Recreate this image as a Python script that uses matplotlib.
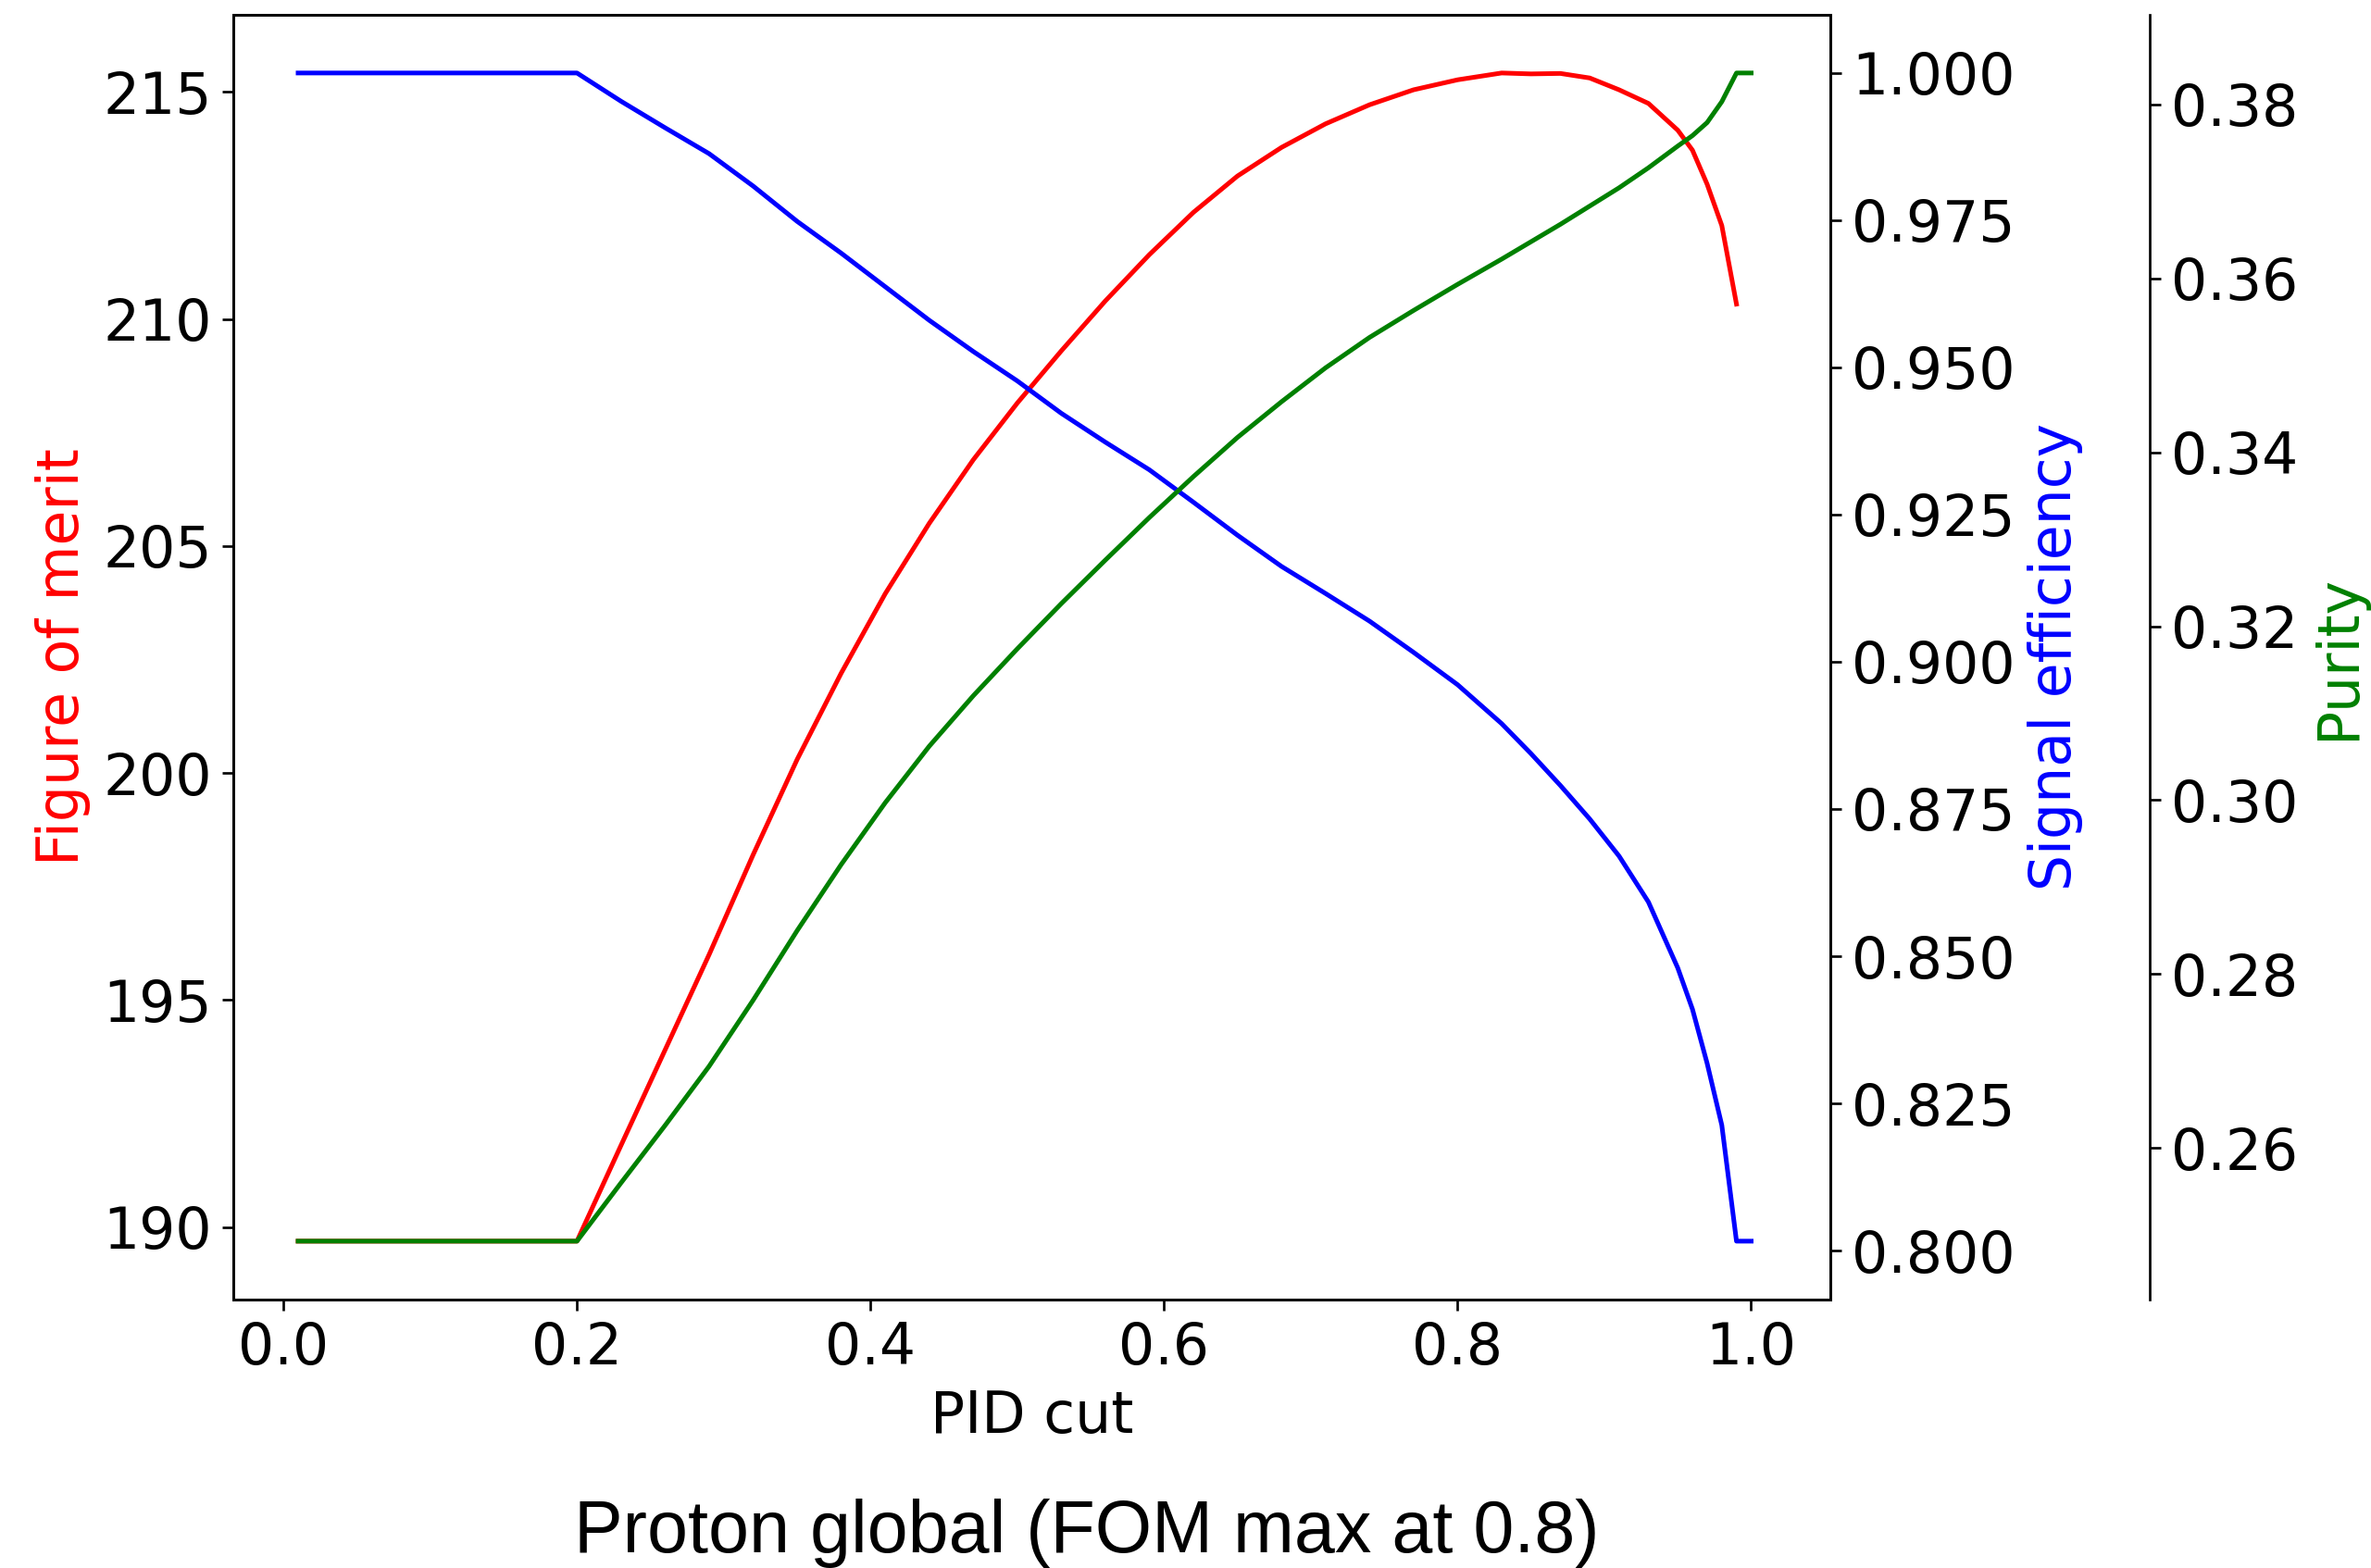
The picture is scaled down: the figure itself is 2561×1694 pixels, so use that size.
import numpy as np
import matplotlib
matplotlib.use("Agg")
import matplotlib.pyplot as plt

# ---- data ----
pid_cut = [0.01, 0.20, 0.23, 0.26, 0.29, 0.32, 0.35, 0.38, 0.41, 0.44, 0.47,
           0.50, 0.53, 0.56, 0.59, 0.62, 0.65, 0.68, 0.71, 0.74, 0.77, 0.80,
           0.83, 0.85, 0.87, 0.89, 0.91, 0.93, 0.95, 0.96, 0.97, 0.98, 0.99, 1.00]

figure_of_merit = [189.69, 189.69, 191.80, 193.90, 196.00, 198.20, 200.30, 202.20,
                   203.95, 205.50, 206.90, 208.15, 209.30, 210.40, 211.42, 212.35,
                   213.15, 213.78, 214.30, 214.72, 215.05, 215.27, 215.42, 215.40,
                   215.41, 215.31, 215.05, 214.75, 214.16, 213.72, 212.97, 212.06,
                   210.33, np.nan]

signal_efficiency = [1.0, 1.0, 0.9952, 0.9907, 0.9863, 0.9808, 0.9748, 0.9694,
                     0.9637, 0.9580, 0.9527, 0.9477, 0.9422, 0.9373, 0.9326, 0.9271,
                     0.9215, 0.9162, 0.9116, 0.9069, 0.9016, 0.8961, 0.8895, 0.8844,
                     0.8790, 0.8733, 0.8670, 0.8592, 0.8480, 0.8410, 0.8318, 0.8213,
                     0.8016, 0.8016]

purity = [0.2493, 0.2493, 0.2560, 0.2626, 0.2694, 0.2770, 0.2850, 0.2926,
          0.2997, 0.3062, 0.3120, 0.3174, 0.3226, 0.3276, 0.3325, 0.3372,
          0.3417, 0.3458, 0.3497, 0.3532, 0.3563, 0.3593, 0.3622, 0.3642,
          0.3662, 0.3683, 0.3704, 0.3727, 0.3752, 0.3764, 0.3779, 0.3803,
          0.3836, 0.3836]

x_label = "PID cut"
y_labels = ["Figure of merit", "Signal efficiency", "Purity"]
series_colors = ["red", "blue", "green"]
title_text = "Proton global (FOM max at 0.8)"

# ---- figure ----
DPI = 240
plt.rcParams["font.family"] = ["DejaVu Sans"]
plt.rcParams["font.size"] = 18.5

fig = plt.figure(figsize=(2561 / DPI, 1694 / DPI), dpi=DPI)
ax = fig.add_axes([0.0985, 0.1712, 0.6735, 0.8195])
ax2 = ax.twinx()
ax3 = ax.twinx()
ax3.spines["right"].set_position(("axes", 1.2))

ax.plot(pid_cut, figure_of_merit, color=series_colors[0])
ax2.plot(pid_cut, signal_efficiency, color=series_colors[1])
ax3.plot(pid_cut, purity, color=series_colors[2])
ax.set_xlim(-0.034, 1.054)

ax.set_xlabel(x_label)
ax.set_ylabel(y_labels[0], color=series_colors[0])
ax2.set_ylabel(y_labels[1], color=series_colors[1])
ax3.set_ylabel(y_labels[2], color=series_colors[2])

fig.text(0.4583, 0.010, title_text, ha="center", va="baseline",
         fontsize=23.7, family=["Liberation Sans", "DejaVu Sans"])

fig.savefig("out.png", dpi=DPI, facecolor="white")
